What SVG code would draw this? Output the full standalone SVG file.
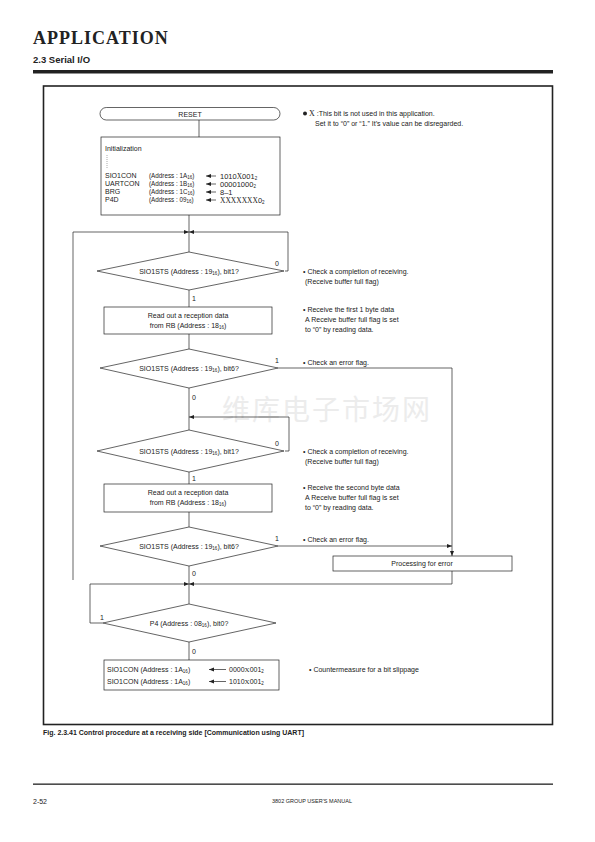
<svg xmlns="http://www.w3.org/2000/svg" width="595" height="842" viewBox="0 0 595 842">
<style>
.t{font-family:"Liberation Sans",Arial,sans-serif;font-size:7px;fill:#222}
.s{font-family:"Liberation Serif","Times New Roman",serif}
.ln{stroke:#222;stroke-width:0.7;fill:none}
.bx{stroke:#222;stroke-width:0.7;fill:#fff}
.sub{font-size:4.5px}
</style>
<defs>
<marker id="ah" markerWidth="6" markerHeight="6" refX="5" refY="3" orient="auto" markerUnits="userSpaceOnUse">
<path d="M0,1 L5,3 L0,5 z" fill="#222"/>
</marker>
</defs>
<rect width="595" height="842" fill="#fff"/>
<text x="33" y="44" font-family="'Liberation Serif','Times New Roman',serif" font-weight="bold" font-size="18" letter-spacing="1" fill="#222">APPLICATION</text>
<text x="33" y="63" font-family="'Liberation Sans',Arial,sans-serif" font-weight="bold" font-size="9.5" fill="#222">2.3 Serial I/O</text>
<rect x="33" y="70" width="520" height="3.5" fill="#222"/>
<rect x="43.5" y="86" width="509" height="638.5" fill="none" stroke="#222" stroke-width="1.6"/>
<text x="327" y="420" font-family="'Noto Sans CJK SC',sans-serif" font-size="28" fill="#ececec" text-anchor="middle" letter-spacing="2">维库电子市场网</text>

<g id="connectors">
<line class="ln" x1="199" y1="120" x2="199" y2="137"/>
<line class="ln" x1="189" y1="215" x2="189" y2="252"/>
<polyline class="ln" points="73,580 73,232 189,232" marker-end="url(#ah)"/>
<polyline class="ln" points="285,271 288,271 288,232 189,232" marker-end="url(#ah)"/>
<line class="ln" x1="189" y1="290" x2="189" y2="307"/>
<line class="ln" x1="189" y1="334" x2="189" y2="349"/>
<polyline class="ln" points="278,368 452,368 452,556" marker-end="url(#ah)"/>
<line class="ln" x1="189" y1="388" x2="189" y2="430"/>
<polyline class="ln" points="285,451 289,451 289,417 189,417" marker-end="url(#ah)"/>
<line class="ln" x1="189" y1="472" x2="189" y2="484"/>
<line class="ln" x1="189" y1="512" x2="189" y2="527"/>
<line class="ln" x1="278" y1="546" x2="452" y2="546" marker-end="url(#ah)"/>
<polyline class="ln" points="452,571 452,584 189,584" marker-end="url(#ah)"/>
<polyline class="ln" points="103,623 90,623 90,584 189,584" marker-end="url(#ah)"/>
<line class="ln" x1="189" y1="566" x2="189" y2="604"/>
<line class="ln" x1="189" y1="642" x2="189" y2="660"/>
<text class="t" x="275" y="266">0</text>
<text class="t" x="192" y="301">1</text>
<text class="t" x="275" y="363">1</text>
<text class="t" x="192" y="400">0</text>
<text class="t" x="275" y="446">0</text>
<text class="t" x="192" y="481">1</text>
<text class="t" x="275" y="541">1</text>
<text class="t" x="192" y="576">0</text>
<text class="t" x="100" y="620">1</text>
<text class="t" x="192" y="654">0</text>
</g>

<g id="reset">
<rect class="bx" x="100" y="107.5" width="180" height="12.5" rx="6.25"/>
<text class="t" x="190" y="116.5" text-anchor="middle">RESET</text>
</g>

<g id="init">
<rect class="bx" x="101" y="137" width="179" height="78"/>
<text class="t" x="105" y="151">Initialization</text>
<line x1="107" y1="155" x2="107" y2="168" stroke="#555" stroke-width="0.5" stroke-dasharray="1,1"/>
<text class="t" x="105" y="178">SIO1CON</text>
<text class="t" x="105" y="186">UARTCON</text>
<text class="t" x="105" y="194">BRG</text>
<text class="t" x="105" y="202">P4D</text>
<text class="t" x="149" y="178" style="font-size:6.3px">(Address : 1A<tspan class="sub" dy="0.5">16</tspan><tspan dy="-0.5">)</tspan></text>
<text class="t" x="149" y="186" style="font-size:6.3px">(Address : 1B<tspan class="sub" dy="0.5">16</tspan><tspan dy="-0.5">)</tspan></text>
<text class="t" x="149" y="194" style="font-size:6.3px">(Address : 1C<tspan class="sub" dy="0.5">16</tspan><tspan dy="-0.5">)</tspan></text>
<text class="t" x="149" y="202" style="font-size:6.3px">(Address : 09<tspan class="sub" dy="0.5">16</tspan><tspan dy="-0.5">)</tspan></text>
<line class="ln" x1="216" y1="176" x2="206" y2="176" marker-end="url(#ah)"/>
<line class="ln" x1="216" y1="184" x2="206" y2="184" marker-end="url(#ah)"/>
<line class="ln" x1="216" y1="192" x2="206" y2="192" marker-end="url(#ah)"/>
<line class="ln" x1="216" y1="200" x2="206" y2="200" marker-end="url(#ah)"/>
<text class="t" x="220" y="179" style="font-size:7.5px">1010<tspan class="s">X</tspan>001<tspan class="sub" dy="0.5">2</tspan></text>
<text class="t" x="220" y="187" style="font-size:7.5px">00001000<tspan class="sub" dy="0.5">2</tspan></text>
<text class="t" x="220" y="195" style="font-size:7.5px">8–1</text>
<text class="t" x="220" y="203" style="font-size:7.5px"><tspan class="s">XXXXXXX</tspan>0<tspan class="sub" dy="0.5">2</tspan></text>
</g>

<g id="note-x">
<circle cx="305" cy="113.5" r="2" fill="#222"/>
<text class="t" x="309" y="116"><tspan class="s" style="font-size:8px">X</tspan> :This bit is not used in this application.</text>
<text class="t" x="315" y="126">Set it to “0” or “1.” It’s value can be disregarded.</text>
</g>

<g id="dec1">
<polygon class="bx" points="189,252 284,271 189,290 97,271"/>
<text class="t" x="189" y="274" text-anchor="middle">SIO1STS (Address : 19<tspan class="sub" dy="0.5">16</tspan><tspan dy="-0.5">), bit1?</tspan></text>
</g>
<g id="read1">
<rect class="bx" x="104" y="307" width="168" height="27"/>
<text class="t" x="188" y="318" text-anchor="middle">Read out a reception data</text>
<text class="t" x="188" y="328" text-anchor="middle">from RB (Address : 18<tspan class="sub" dy="0.5">16</tspan><tspan dy="-0.5">)</tspan></text>
</g>
<g id="dec2">
<polygon class="bx" points="189,349 278,368 189,388 100,368"/>
<text class="t" x="189" y="371" text-anchor="middle">SIO1STS (Address : 19<tspan class="sub" dy="0.5">16</tspan><tspan dy="-0.5">), bit6?</tspan></text>
</g>
<g id="dec3">
<polygon class="bx" points="189,430 284,451 189,472 97,451"/>
<text class="t" x="189" y="454" text-anchor="middle">SIO1STS (Address : 19<tspan class="sub" dy="0.5">16</tspan><tspan dy="-0.5">), bit1?</tspan></text>
</g>
<g id="read2">
<rect class="bx" x="104" y="484" width="168" height="28"/>
<text class="t" x="188" y="495" text-anchor="middle">Read out a reception data</text>
<text class="t" x="188" y="505" text-anchor="middle">from RB (Address : 18<tspan class="sub" dy="0.5">16</tspan><tspan dy="-0.5">)</tspan></text>
</g>
<g id="dec4">
<polygon class="bx" points="189,527 278,546 189,566 100,546"/>
<text class="t" x="189" y="549" text-anchor="middle">SIO1STS (Address : 19<tspan class="sub" dy="0.5">16</tspan><tspan dy="-0.5">), bit6?</tspan></text>
</g>
<g id="error">
<rect class="bx" x="333" y="556" width="179" height="15"/>
<text class="t" x="422" y="566" text-anchor="middle">Processing for error</text>
</g>
<g id="dec5">
<polygon class="bx" points="189,604 276,623 189,642 103,623"/>
<text class="t" x="189" y="626" text-anchor="middle">P4 (Address : 08<tspan class="sub" dy="0.5">16</tspan><tspan dy="-0.5">), bit0?</tspan></text>
</g>
<g id="final">
<rect class="bx" x="104" y="660" width="175" height="30"/>
<text class="t" x="107" y="672">SIO1CON (Address : 1A<tspan class="sub" dy="0.5">16</tspan><tspan dy="-0.5">)</tspan></text>
<text class="t" x="107" y="684">SIO1CON (Address : 1A<tspan class="sub" dy="0.5">16</tspan><tspan dy="-0.5">)</tspan></text>
<line class="ln" x1="226" y1="669.5" x2="209" y2="669.5" marker-end="url(#ah)"/>
<line class="ln" x1="226" y1="681.5" x2="209" y2="681.5" marker-end="url(#ah)"/>
<text class="t" x="229" y="672">0000<tspan class="s">X</tspan>001<tspan class="sub" dy="0.5">2</tspan></text>
<text class="t" x="229" y="684">1010<tspan class="s">X</tspan>001<tspan class="sub" dy="0.5">2</tspan></text>
</g>

<g id="notes">
<text class="t" x="303" y="274">• Check a completion of receiving.</text>
<text class="t" x="305" y="284">(Receive buffer full flag)</text>
<text class="t" x="303" y="312">• Receive the first 1 byte data</text>
<text class="t" x="305" y="322">A Receive buffer full flag is set</text>
<text class="t" x="305" y="332">to “0” by reading data.</text>
<text class="t" x="303" y="365">• Check an error flag.</text>
<text class="t" x="303" y="454">• Check a completion of receiving.</text>
<text class="t" x="305" y="464">(Receive buffer full flag)</text>
<text class="t" x="303" y="490">• Receive the second byte data</text>
<text class="t" x="305" y="500">A Receive buffer full flag is set</text>
<text class="t" x="305" y="510">to “0” by reading data.</text>
<text class="t" x="303" y="542">• Check an error flag.</text>
<text class="t" x="309" y="672">• Countermeasure for a bit slippage</text>
</g>

<text x="43" y="735" font-family="'Liberation Sans',Arial,sans-serif" font-weight="bold" font-size="7" fill="#222">Fig. 2.3.41 Control procedure at a receiving side [Communication using UART]</text>
<rect x="33" y="783.5" width="520" height="1.3" fill="#222"/>
<text x="33" y="804" font-family="'Liberation Sans',Arial,sans-serif" font-size="7" fill="#222">2-52</text>
<text x="312" y="803" font-family="'Liberation Sans',Arial,sans-serif" font-size="5.5" fill="#222" text-anchor="middle">3802 GROUP USER’S MANUAL</text>
</svg>
